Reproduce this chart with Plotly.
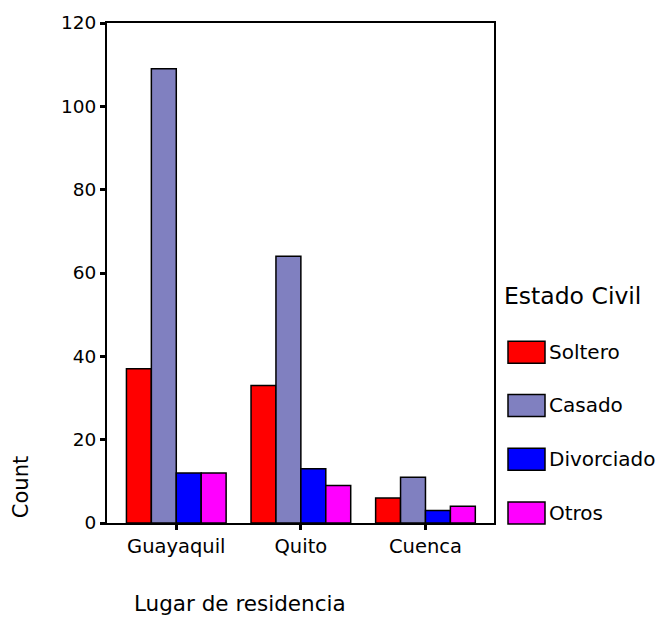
import plotly.graph_objects as go

categories = ["Guayaquil", "Quito", "Cuenca"]
series_names = ["Soltero", "Casado", "Divorciado", "Otros"]
soltero = [37, 33, 6]
casado = [109, 64, 11]
divorciado = [12, 13, 3]
otros = [12, 9, 4]
colors = ["#FF0000", "#8080C0", "#0000FF", "#FF00FF"]
y_ticks = [0, 20, 40, 60, 80, 100, 120]

FONT = "DejaVu Sans, Arial, sans-serif"

fig = go.Figure()
for name, vals, col in zip(series_names, [soltero, casado, divorciado, otros], colors):
    fig.add_trace(go.Bar(
        x=categories, y=vals, name=name,
        marker=dict(color=col, line=dict(color="black", width=1.5)),
        showlegend=False,
    ))

W, H = 660, 618
ml, mt = 107, 21
mr = W - 494
mb = H - 523
pw, ph = W - ml - mr, H - mt - mb

def px(x):
    return (x - ml) / pw

def py(y):
    return (H - mb - y) / ph

shapes = []
annotations = []
annotations.append(dict(text="Estado Civil", x=px(502), y=py(295), xref="paper", yref="paper",
                        xanchor="left", yanchor="middle", showarrow=False,
                        font=dict(size=23.5, color="black", family=FONT)))
leg_y = [351.5, 405, 459, 513]
for name, col, yc in zip(series_names, colors, leg_y):
    shapes.append(dict(type="rect", xref="paper", yref="paper",
                       x0=px(508), x1=px(545), y0=py(yc + 11), y1=py(yc - 11),
                       fillcolor=col, line=dict(color="black", width=1.5)))
    annotations.append(dict(text=name, x=px(547), y=py(yc), xref="paper", yref="paper",
                            xanchor="left", yanchor="middle", showarrow=False,
                            font=dict(size=20, color="black", family=FONT)))
annotations.append(dict(text="Lugar de residencia", x=px(240), y=py(604), xref="paper", yref="paper",
                        xanchor="center", yanchor="middle", showarrow=False,
                        font=dict(size=21.5, color="black", family=FONT)))
annotations.append(dict(text="Count", x=px(21), y=py(487), xref="paper", yref="paper",
                        xanchor="center", yanchor="middle", showarrow=False, textangle=-90,
                        font=dict(size=21, color="black", family=FONT)))

fig.update_layout(
    width=W, height=H,
    margin=dict(l=ml, r=mr, t=mt, b=mb, pad=0),
    paper_bgcolor="white", plot_bgcolor="white",
    barmode="group", bargap=0.2, bargroupgap=0,
    font=dict(family=FONT, size=18, color="black"),
    shapes=shapes, annotations=annotations,
    xaxis=dict(range=[-0.556, 2.55], showgrid=False, showline=True, linecolor="black", linewidth=2,
               mirror=True, ticks="outside", ticklen=5, tickwidth=3, tickcolor="black",
               tickfont=dict(size=19.5, family=FONT)),
    yaxis=dict(range=[0, 120], tickvals=y_ticks, showgrid=False, zeroline=False, showline=True,
               linecolor="black", linewidth=2, mirror=True, ticks="outside", ticklen=5,
               tickwidth=3, tickcolor="black", tickfont=dict(size=18.5, family=FONT)),
)
fig.write_html("out.html",
               config={"displayModeBar": False, "staticPlot": True},
               post_script="document.body.style.margin='0';document.body.style.overflow='hidden';")
